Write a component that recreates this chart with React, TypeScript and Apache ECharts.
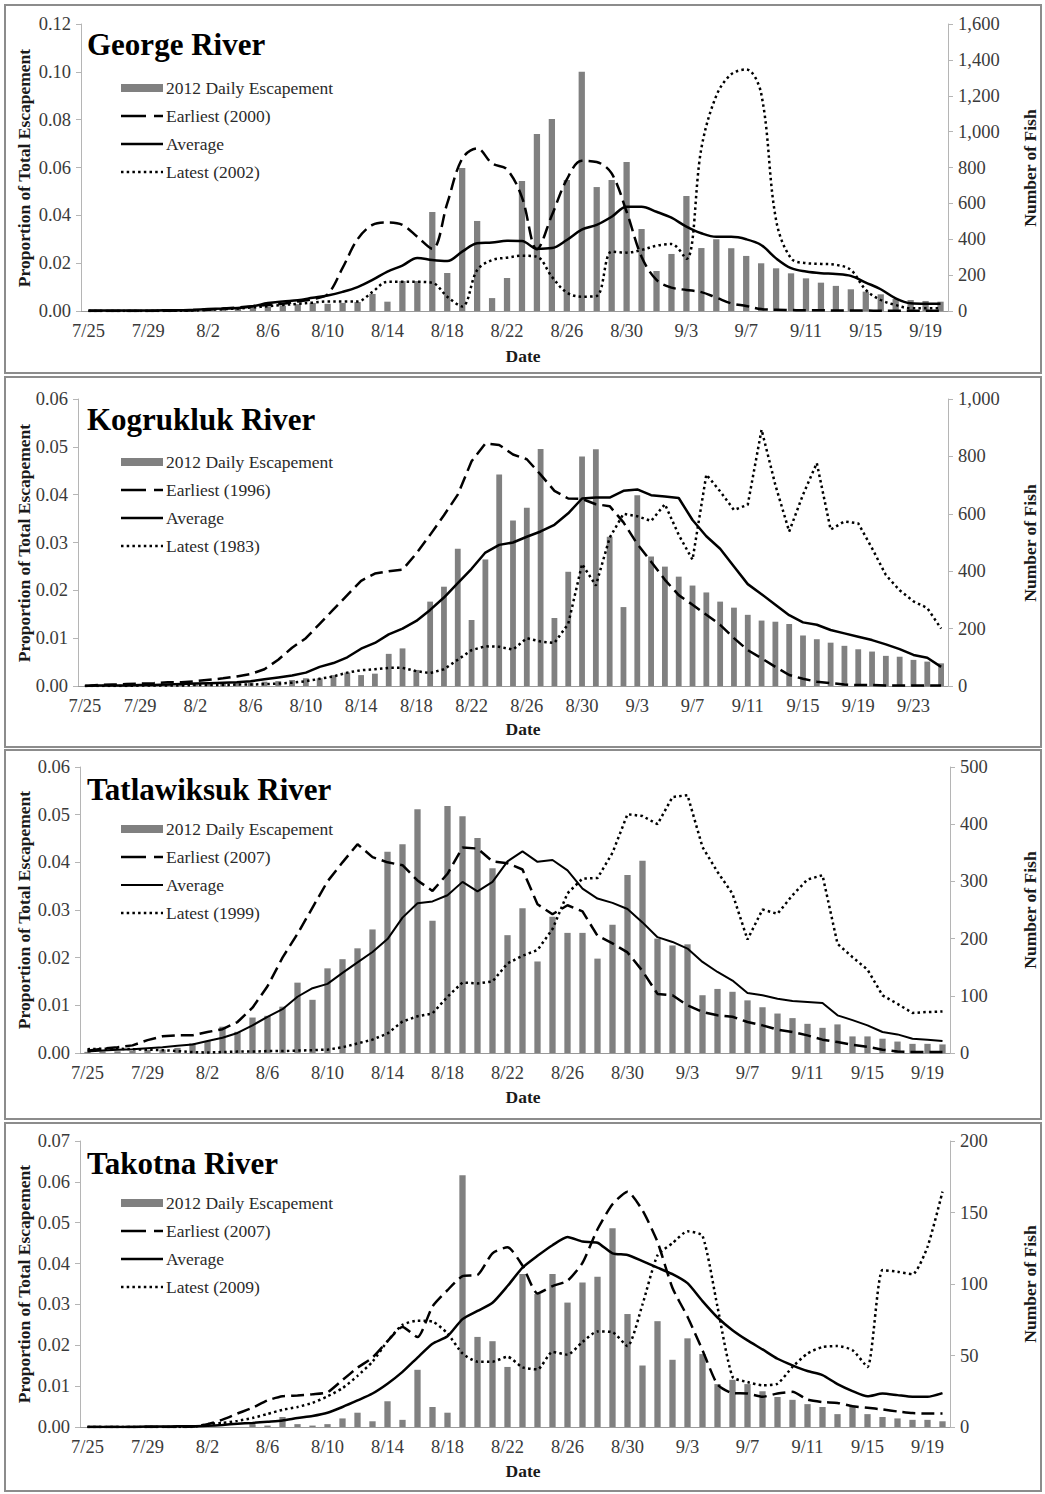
import React, { useEffect, useRef } from "react";
import * as echarts from "echarts";

// Day labels shared by all panels (Kogrukluk runs three days longer)
const DATES = [
  "7/25", "7/26", "7/27", "7/28", "7/29", "7/30", "7/31",
  "8/1", "8/2", "8/3", "8/4", "8/5", "8/6", "8/7", "8/8", "8/9", "8/10",
  "8/11", "8/12", "8/13", "8/14", "8/15", "8/16", "8/17", "8/18", "8/19", "8/20",
  "8/21", "8/22", "8/23", "8/24", "8/25", "8/26", "8/27", "8/28", "8/29", "8/30", "8/31",
  "9/1", "9/2", "9/3", "9/4", "9/5", "9/6", "9/7", "9/8", "9/9", "9/10",
  "9/11", "9/12", "9/13", "9/14", "9/15", "9/16", "9/17", "9/18", "9/19", "9/20",
  "9/21", "9/22", "9/23", "9/24", "9/25",
];

// ---- George River ----
const GEORGE_FISH = [
  0, 0, 0, 0, 1, 1, 2, 3,
  5, 8, 12, 20, 25, 30, 38, 45, 40, 45, 50,
  95, 52, 167, 167, 552, 212, 797, 502, 72, 184,
  725, 987, 1070, 730, 1334, 691, 730, 831, 457, 223,
  318, 641, 351, 400, 350, 307, 266, 238, 210, 182,
  158, 140, 121, 108, 93, 67, 61, 56, 52,
];
const GEORGE_EARLIEST = [
  0, 0, 0, 0, 0, 0.0001, 0.0002, 0.0003,
  0.0005, 0.001, 0.0015, 0.002, 0.0025, 0.003, 0.004, 0.005, 0.007, 0.018, 0.03,
  0.036, 0.037, 0.036, 0.031, 0.026, 0.045, 0.0637, 0.068, 0.0617, 0.0592,
  0.0475, 0.0258, 0.04, 0.055, 0.0628, 0.0623, 0.0575, 0.0415, 0.0227, 0.013,
  0.0098, 0.0088, 0.0079, 0.0056, 0.0032, 0.0021, 0.0008, 0.0005, 0.0004, 0.0003,
  0.0003, 0.0002, 0.0002, 0.0002, 0.0001, 0.0001, 0.0001, 0.0001, 0.0001,
];
const GEORGE_AVERAGE = [
  0.0002, 0.0002, 0.0002, 0.0002, 0.0002, 0.0003, 0.0003, 0.0005,
  0.0008, 0.001, 0.0013, 0.002, 0.0033, 0.004, 0.0045, 0.0055, 0.0065, 0.008, 0.01,
  0.013, 0.0165, 0.019, 0.0222, 0.0213, 0.0209, 0.0248, 0.0283, 0.0286, 0.0294,
  0.0293, 0.026, 0.0263, 0.0297, 0.034, 0.036, 0.0394, 0.0436, 0.0436, 0.0415,
  0.039, 0.0353, 0.0325, 0.031, 0.031, 0.03, 0.0276, 0.022, 0.0179, 0.0165,
  0.0158, 0.0155, 0.0147, 0.0119, 0.0091, 0.0053, 0.0032, 0.003, 0.003,
];
const GEORGE_LATEST = [
  0, 0, 0, 0, 0, 0, 0.0001, 0.0002,
  0.0005, 0.0008, 0.001, 0.0015, 0.002, 0.0025, 0.003, 0.0035, 0.004, 0.004, 0.004,
  0.008, 0.0122, 0.0122, 0.0122, 0.0118, 0.006, 0.0019, 0.0171, 0.0213, 0.0223,
  0.0231, 0.0227, 0.0143, 0.0077, 0.006, 0.0063, 0.0248, 0.0244, 0.0255, 0.0273,
  0.028, 0.0218, 0.068, 0.09, 0.099, 0.101, 0.091, 0.038, 0.022, 0.02,
  0.0197, 0.0193, 0.0172, 0.0088, 0.0046, 0.0025, 0.0011, 0.0011, 0.0011,
];

// ---- Kogrukluk River ----
const KOG_FISH = [
  0, 0, 1, 1, 2, 2, 3, 4, 5, 6,
  8, 10, 12, 15, 17, 21, 27, 27, 38, 47,
  38, 43, 112, 131, 56, 294, 346, 478, 230, 441,
  737, 577, 621, 826, 237, 398, 800, 825, 520, 275,
  665, 451, 416, 381, 350, 326, 294, 273, 248, 228,
  224, 216, 176, 163, 151, 140, 128, 120, 105, 102,
  91, 85, 79,
];
const KOG_EARLIEST = [
  0, 0.0002, 0.0003, 0.0004, 0.0005, 0.0006, 0.0008, 0.0008, 0.001, 0.0013,
  0.0016, 0.002, 0.0025, 0.0035, 0.0055, 0.008, 0.01, 0.013, 0.016, 0.019,
  0.022, 0.0235, 0.024, 0.0243, 0.0277, 0.0316, 0.0357, 0.04, 0.047, 0.0507,
  0.0504, 0.0484, 0.0474, 0.0442, 0.0408, 0.0392, 0.0391, 0.038, 0.0376, 0.0342,
  0.0297, 0.026, 0.0222, 0.019, 0.017, 0.0149, 0.0128, 0.01, 0.0075, 0.0058,
  0.004, 0.0023, 0.0015, 0.0009, 0.0006, 0.0003, 0.0002, 0.0002, 0.0001, 0.0001,
  0.0001, 0.0001, 0.0001,
];
const KOG_AVERAGE = [
  0, 0.0001, 0.0001, 0.0001, 0.0002, 0.0002, 0.0003, 0.0004, 0.0005, 0.0006,
  0.0007, 0.0008, 0.001, 0.0014, 0.0018, 0.0022, 0.0028, 0.004, 0.0048, 0.006,
  0.0078, 0.009, 0.0108, 0.012, 0.0136, 0.0159, 0.0185, 0.0215, 0.0245, 0.0279,
  0.0295, 0.03, 0.0312, 0.0323, 0.0337, 0.0361, 0.0392, 0.0394, 0.0394, 0.0408,
  0.0411, 0.0399, 0.0396, 0.0393, 0.0347, 0.0313, 0.0287, 0.025, 0.0213, 0.0192,
  0.017, 0.0148, 0.0133, 0.0128, 0.0117, 0.011, 0.0103, 0.0096, 0.0087, 0.0077,
  0.0065, 0.0059, 0.004,
];
const KOG_LATEST = [
  0, 0, 0, 0, 0.0001, 0.0001, 0.0001, 0.0001, 0.0002, 0.0002,
  0.0002, 0.0003, 0.0003, 0.0004, 0.0005, 0.0007, 0.001, 0.0015, 0.002, 0.0028,
  0.0033, 0.0035, 0.0038, 0.0038, 0.0031, 0.0027, 0.0035, 0.0055, 0.0075, 0.0083,
  0.0082, 0.0076, 0.01, 0.0093, 0.009, 0.013, 0.0255, 0.021, 0.031, 0.036,
  0.0355, 0.0345, 0.038, 0.0316, 0.0264, 0.0442, 0.0407, 0.0368, 0.0379, 0.0536,
  0.042, 0.0323, 0.04, 0.0466, 0.0327, 0.0344, 0.034, 0.0288, 0.0232, 0.02,
  0.0177, 0.0163, 0.012,
];

// ---- Tatlawiksuk River ----
const TAT_FISH = [
  2, 3, 3, 4, 5, 6, 9, 17, 21, 46,
  37, 62, 65, 81, 123, 93, 148, 164, 183, 216,
  352, 365, 426, 231, 432, 414, 376, 323, 206, 253,
  160, 238, 210, 210, 165, 224, 311, 336, 200, 188,
  190, 101, 112, 107, 92, 80, 69, 61, 51, 44,
  50, 29, 29, 25, 20, 16, 16, 15,
];
const TAT_EARLIEST = [
  0.0005, 0.0009, 0.0012, 0.0016, 0.0027, 0.0035, 0.0037, 0.0037, 0.0044, 0.005,
  0.0065, 0.0095, 0.014, 0.02, 0.025, 0.0305, 0.036, 0.04, 0.0438, 0.0411,
  0.04, 0.0394, 0.0362, 0.034, 0.0376, 0.0431, 0.0429, 0.0402, 0.0398, 0.0385,
  0.0312, 0.0291, 0.031, 0.0297, 0.0246, 0.023, 0.0211, 0.0172, 0.0124, 0.0121,
  0.01, 0.0086, 0.0079, 0.0076, 0.0065, 0.0058, 0.0049, 0.0044, 0.0037, 0.0028,
  0.0023, 0.0017, 0.0013, 0.0007, 0.0003, 0.0002, 0.0002, 0.0002,
];
const TAT_AVERAGE = [
  0.0003, 0.0005, 0.0007, 0.0008, 0.001, 0.0012, 0.0015, 0.0018, 0.0025, 0.0032,
  0.0042, 0.0058, 0.0076, 0.0092, 0.0118, 0.0136, 0.0145, 0.0168, 0.019, 0.0212,
  0.0239, 0.0284, 0.0314, 0.0318, 0.0331, 0.0359, 0.0339, 0.0359, 0.0402, 0.0423,
  0.0401, 0.0405, 0.0383, 0.0345, 0.0324, 0.0315, 0.0302, 0.0274, 0.0243, 0.0233,
  0.0219, 0.0191, 0.017, 0.0152, 0.0126, 0.0121, 0.0114, 0.0109, 0.0107, 0.0105,
  0.0079, 0.0069, 0.0058, 0.0044, 0.0039, 0.003, 0.0028, 0.0025,
];
const TAT_LATEST = [
  0.0008, 0.0009, 0.0009, 0.0008, 0.0007, 0.0006, 0.0004, 0.0002, 0.0001, 0.0002,
  0.0003, 0.0003, 0.0004, 0.0004, 0.0005, 0.0006, 0.0007, 0.0012, 0.002, 0.0028,
  0.0041, 0.0066, 0.0077, 0.0083, 0.0118, 0.0148, 0.0146, 0.015, 0.0188, 0.0204,
  0.0216, 0.026, 0.0335, 0.0366, 0.0367, 0.042, 0.0501, 0.0497, 0.048, 0.0537,
  0.0541, 0.0432, 0.038, 0.0334, 0.0238, 0.0301, 0.0292, 0.0331, 0.0364, 0.0373,
  0.0229, 0.0201, 0.0175, 0.0121, 0.0103, 0.0084, 0.0086, 0.0087,
];

// ---- Takotna River ----
const TAK_FISH = [
  0, 0, 0, 0, 0, 0, 0, 0, 0, 0,
  0, 2, 1, 7, 2, 1, 2, 6, 10, 4,
  18, 5, 40, 14, 10, 176, 63, 60, 42, 107,
  93, 107, 87, 101, 105, 139, 79, 43, 74, 47,
  62, 51, 30, 33, 30, 25, 21, 19, 16, 14,
  9, 14, 9, 7, 6, 5, 5, 4,
];
const TAK_EARLIEST = [
  0, 0, 0, 0, 0, 0, 0, 0.0001, 0.0007, 0.0018,
  0.0033, 0.0047, 0.0065, 0.0075, 0.0077, 0.008, 0.0085, 0.0115, 0.0145, 0.017,
  0.021, 0.0245, 0.022, 0.0295, 0.0335, 0.0369, 0.0372, 0.0425, 0.044, 0.0395,
  0.0327, 0.0345, 0.0358, 0.0402, 0.0484, 0.0545, 0.0576, 0.053, 0.0453, 0.034,
  0.027, 0.0188, 0.0104, 0.0083, 0.0082, 0.0074, 0.0082, 0.0086, 0.0067, 0.0061,
  0.0059, 0.0051, 0.0047, 0.0043, 0.0038, 0.0034, 0.0033, 0.0033,
];
const TAK_AVERAGE = [
  0, 0, 0, 0, 0.0001, 0.0001, 0.0002, 0.0002, 0.0003, 0.0005,
  0.0008, 0.001, 0.0013, 0.0016, 0.0022, 0.0027, 0.0035, 0.0049, 0.0065, 0.0082,
  0.0106, 0.0135, 0.017, 0.0204, 0.0222, 0.0264, 0.0284, 0.0304, 0.0345, 0.039,
  0.0419, 0.0445, 0.0465, 0.0454, 0.0451, 0.0425, 0.0421, 0.0406, 0.039, 0.0374,
  0.0352, 0.0308, 0.0268, 0.0237, 0.0212, 0.019, 0.0167, 0.0151, 0.0137, 0.0127,
  0.0105, 0.0088, 0.0075, 0.0082, 0.0078, 0.0074, 0.0074, 0.0083,
];
const TAK_LATEST = [
  0, 0, 0, 0, 0, 0, 0, 0, 0.0007, 0.001,
  0.0015, 0.0022, 0.0032, 0.0042, 0.0049, 0.0059, 0.0075, 0.0095, 0.0125, 0.016,
  0.021, 0.025, 0.026, 0.0258, 0.0229, 0.018, 0.016, 0.016, 0.0172, 0.0146,
  0.0141, 0.0184, 0.0177, 0.0208, 0.0234, 0.0232, 0.0198, 0.03, 0.042, 0.045,
  0.0479, 0.0468, 0.0294, 0.0123, 0.011, 0.0102, 0.0106, 0.0147, 0.018, 0.0196,
  0.0198, 0.0188, 0.0147, 0.0384, 0.038, 0.0374, 0.0441, 0.0576,
];

const RIVERS = ["George River", "Kogrukluk River", "Tatlawiksuk River", "Takotna River"];
const EARLIEST_YEARS = ["2000", "1996", "2007", "2007"];
const LATEST_YEARS = ["2002", "1983", "1999", "2009"];
const PROP_MAX = [0.12, 0.06, 0.06, 0.07];
const PROP_STEP = [0.02, 0.01, 0.01, 0.01];
const FISH_MAX = [1600, 1000, 500, 200];
const FISH_STEP = [200, 200, 100, 50];

const FISH = [GEORGE_FISH, KOG_FISH, TAT_FISH, TAK_FISH];
const EARLIEST = [GEORGE_EARLIEST, KOG_EARLIEST, TAT_EARLIEST, TAK_EARLIEST];
const AVERAGE = [GEORGE_AVERAGE, KOG_AVERAGE, TAT_AVERAGE, TAK_AVERAGE];
const LATEST = [GEORGE_LATEST, KOG_LATEST, TAT_LATEST, TAK_LATEST];

// Page geometry of each panel: frame, plot box and text anchors
const LAYOUT = [
  { frameTop: 5, frameBottom: 373, left: 81, right: 948, top: 24, bottom: 311, titleY: 44, legendY: 88, nameY: 168, dateY: 356, smooth: 0.35, avgWidth: 2.5 },
  { frameTop: 377, frameBottom: 747, left: 78, right: 948, top: 399, bottom: 686, titleY: 419, legendY: 462, nameY: 543, dateY: 729, smooth: false, avgWidth: 2.5 },
  { frameTop: 750, frameBottom: 1119, left: 80, right: 950, top: 767, bottom: 1053, titleY: 789, legendY: 829, nameY: 910, dateY: 1097, smooth: false, avgWidth: 2 },
  { frameTop: 1123, frameBottom: 1491, left: 80, right: 950, top: 1141, bottom: 1427, titleY: 1163, legendY: 1203, nameY: 1284, dateY: 1471, smooth: 0.2, avgWidth: 2.5 },
];

const FONT = "'Liberation Serif', 'Times New Roman', serif";
const TICK_SIZE = 18.5;
const DASH = [13, 6];
const DOT = [2.5, 3.2];

function buildOption() {
  const grid: any[] = [];
  const xAxis: any[] = [];
  const yAxis: any[] = [];
  const series: any[] = [];
  const graphic: any[] = [];

  LAYOUT.forEach((l, k) => {
    const n = FISH[k].length;
    grid.push({ left: l.left, top: l.top, width: l.right - l.left, height: l.bottom - l.top });
    xAxis.push({
      type: "category",
      gridIndex: k,
      data: DATES.slice(0, n),
      boundaryGap: true,
      axisLine: { lineStyle: { color: "#9a9a9a", width: 1 } },
      axisTick: { interval: 3, length: 5, lineStyle: { color: "#9a9a9a" } },
      axisLabel: { interval: 3, fontFamily: FONT, fontSize: TICK_SIZE, color: "#3a3a3a", margin: 10 },
    });
    yAxis.push({
      type: "value",
      gridIndex: k,
      min: 0,
      max: PROP_MAX[k],
      interval: PROP_STEP[k],
      splitLine: { show: false },
      axisLine: { show: true, lineStyle: { color: "#b5b5b5" } },
      axisTick: { show: true, length: 5, lineStyle: { color: "#b5b5b5" } },
      axisLabel: {
        fontFamily: FONT, fontSize: TICK_SIZE, color: "#3a3a3a", margin: 10,
        formatter: (v: number) => v.toFixed(2),
      },
    });
    yAxis.push({
      type: "value",
      gridIndex: k,
      position: "right",
      min: 0,
      max: FISH_MAX[k],
      interval: FISH_STEP[k],
      splitLine: { show: false },
      axisLine: { show: true, lineStyle: { color: "#b5b5b5" } },
      axisTick: { show: true, length: 5, lineStyle: { color: "#b5b5b5" } },
      axisLabel: {
        fontFamily: FONT, fontSize: TICK_SIZE, color: "#3a3a3a", margin: 10,
        formatter: (v: number) => v.toLocaleString("en-US"),
      },
    });

    series.push({
      name: "2012 Daily Escapement",
      type: "bar",
      xAxisIndex: k,
      yAxisIndex: 2 * k + 1,
      data: FISH[k],
      barWidth: "42%",
      itemStyle: { color: "#808080" },
      z: 1,
    });
    const lineBase = { type: "line", xAxisIndex: k, yAxisIndex: 2 * k, symbol: "none", smooth: l.smooth, z: 3 };
    series.push({ ...lineBase, name: `Earliest (${EARLIEST_YEARS[k]})`, data: EARLIEST[k], lineStyle: { color: "#000", width: 2.5, type: DASH } });
    series.push({ ...lineBase, name: "Average", data: AVERAGE[k], lineStyle: { color: "#000", width: l.avgWidth } });
    series.push({ ...lineBase, name: `Latest (${LATEST_YEARS[k]})`, data: LATEST[k], lineStyle: { color: "#000", width: 2.5, type: DOT } });

    // panel frame
    graphic.push({
      type: "rect",
      shape: { x: 5, y: l.frameTop, width: 1036, height: l.frameBottom - l.frameTop },
      style: { fill: "none", stroke: "#8c8c8c", lineWidth: 2 },
      z: -1,
    });
    // river name
    graphic.push({
      type: "text", x: 87, y: l.titleY,
      style: { text: RIVERS[k], fontFamily: FONT, fontWeight: "bold", fontSize: 31, fill: "#000", align: "left", verticalAlign: "middle" },
    });
    // legend
    const lx = 121, lw = 42, gap = 28, ly = l.legendY;
    const legendText = ["2012 Daily Escapement", `Earliest (${EARLIEST_YEARS[k]})`, "Average", `Latest (${LATEST_YEARS[k]})`];
    graphic.push({ type: "rect", shape: { x: lx, y: ly - 4, width: lw, height: 8 }, style: { fill: "#808080" } });
    graphic.push({ type: "line", shape: { x1: lx, y1: ly + gap, x2: lx + lw, y2: ly + gap }, style: { stroke: "#000", lineWidth: 2.5, lineDash: [25, 8] } });
    graphic.push({ type: "line", shape: { x1: lx, y1: ly + 2 * gap, x2: lx + lw, y2: ly + 2 * gap }, style: { stroke: "#000", lineWidth: l.avgWidth } });
    graphic.push({ type: "line", shape: { x1: lx, y1: ly + 3 * gap, x2: lx + lw, y2: ly + 3 * gap }, style: { stroke: "#000", lineWidth: 2.5, lineDash: DOT } });
    legendText.forEach((t, i) => {
      graphic.push({
        type: "text", x: lx + lw + 3, y: ly + i * gap,
        style: { text: t, fontFamily: FONT, fontSize: 17.5, fill: "#2a2a2a", align: "left", verticalAlign: "middle" },
      });
    });
    // axis titles
    graphic.push({
      type: "text", x: 24, y: l.nameY, rotation: Math.PI / 2,
      style: { text: "Proportion of Total Escapement", fontFamily: FONT, fontWeight: "bold", fontSize: 17.5, fill: "#1a1a1a", align: "center", verticalAlign: "middle" },
    });
    graphic.push({
      type: "text", x: 1030, y: l.nameY, rotation: Math.PI / 2,
      style: { text: "Number of Fish", fontFamily: FONT, fontWeight: "bold", fontSize: 17.5, fill: "#1a1a1a", align: "center", verticalAlign: "middle" },
    });
    graphic.push({
      type: "text", x: 523, y: l.dateY,
      style: { text: "Date", fontFamily: FONT, fontWeight: "bold", fontSize: 17.5, fill: "#1a1a1a", align: "center", verticalAlign: "middle" },
    });
  });

  return { animation: false, grid, xAxis, yAxis, series, graphic };
}

export default function App() {
  const ref = useRef<HTMLDivElement>(null);
  useEffect(() => {
    if (!ref.current) return;
    const chart = echarts.init(ref.current, null, { renderer: "svg" });
    chart.setOption(buildOption() as any);
    return () => chart.dispose();
  }, []);
  return (
    <div
      ref={ref}
      style={{ position: "absolute", left: 0, top: 0, width: 1045, height: 1494, background: "#fff" }}
    />
  );
}
